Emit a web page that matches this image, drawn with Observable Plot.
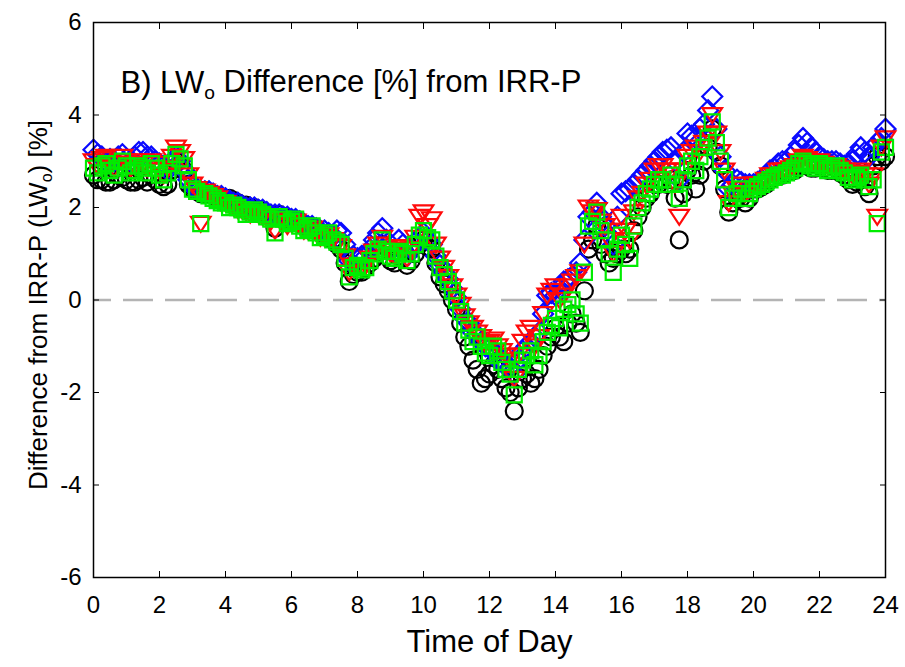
<!DOCTYPE html>
<html><head><meta charset="utf-8">
<script src="https://cdn.jsdelivr.net/npm/d3@7"></script>
<script src="https://cdn.jsdelivr.net/npm/@observablehq/plot@0.6"></script>
<style>
body{margin:0;background:#fff}
#chart{width:905px;height:667px}
</style>
</head><body><div id="chart"></div>
<script>
// Time of day (hours), one row per hour
const time = [
  0,0.125,0.25,0.375,0.5,0.625,0.75,0.875,
  1,1.125,1.25,1.375,1.5,1.625,1.75,1.875,
  2,2.125,2.25,2.375,2.5,2.625,2.75,2.875,
  3,3.125,3.25,3.375,3.5,3.625,3.75,3.875,
  4,4.125,4.25,4.375,4.5,4.625,4.75,4.875,
  5,5.125,5.25,5.375,5.5,5.625,5.75,5.875,
  6,6.125,6.25,6.375,6.5,6.625,6.75,6.875,
  7,7.125,7.25,7.375,7.5,7.625,7.75,7.875,
  8,8.125,8.25,8.375,8.5,8.625,8.75,8.875,
  9,9.125,9.25,9.375,9.5,9.625,9.75,9.875,
  10,10.125,10.25,10.375,10.5,10.625,10.75,10.875,
  11,11.125,11.25,11.375,11.5,11.625,11.75,11.875,
  12,12.125,12.25,12.375,12.5,12.625,12.75,12.875,
  13,13.125,13.25,13.375,13.5,13.625,13.75,13.875,
  14,14.125,14.25,14.375,14.5,14.625,14.75,14.875,
  15,15.125,15.25,15.375,15.5,15.625,15.75,15.875,
  16,16.125,16.25,16.375,16.5,16.625,16.75,16.875,
  17,17.125,17.25,17.375,17.5,17.625,17.75,17.875,
  18,18.125,18.25,18.375,18.5,18.625,18.75,18.875,
  19,19.125,19.25,19.375,19.5,19.625,19.75,19.875,
  20,20.125,20.25,20.375,20.5,20.625,20.75,20.875,
  21,21.125,21.25,21.375,21.5,21.625,21.75,21.875,
  22,22.125,22.25,22.375,22.5,22.625,22.75,22.875,
  23,23.125,23.25,23.375,23.5,23.625,23.75,23.875,
  24];
// Series values (% difference from IRR-P)
const blackCircles = [
  2.7,2.6,2.6,2.55,2.55,2.6,2.7,2.65,
  2.6,2.55,2.55,2.6,2.65,2.55,2.7,2.6,
  2.5,2.45,2.5,2.8,3.0,2.9,2.8,2.5,
  2.4,2.35,2.3,2.3,2.3,2.25,2.25,2.2,
  2.2,2.2,2.15,2.1,2.05,2.05,2.0,2.0,
  1.95,1.9,1.85,1.8,1.55,1.85,1.8,1.75,
  1.75,1.7,1.65,1.6,1.6,1.55,1.5,1.45,
  1.4,1.35,1.3,1.2,1.1,0.8,0.4,0.55,
  0.6,0.6,0.7,0.8,0.9,1.05,1.2,0.95,
  0.85,0.8,0.95,0.9,0.75,0.85,1.0,1.2,
  1.3,1.15,1.1,0.8,0.5,0.35,0.2,0.0,
  -0.2,-0.5,-0.8,-1.0,-1.3,-1.5,-1.8,-1.7,
  -1.6,-1.4,-1.5,-1.7,-1.9,-2.0,-2.4,-1.9,
  -1.7,-1.6,-1.8,-1.7,-1.5,-1.2,-1.0,-0.8,
  -0.6,-0.8,-0.9,-0.5,-0.3,-0.5,-0.7,0.2,
  1.1,1.3,1.6,1.2,1.0,0.8,0.9,1.0,
  1.1,1.0,1.1,1.5,1.8,2.0,2.2,2.3,
  2.5,2.5,2.6,2.5,2.6,2.2,1.3,2.3,
  2.8,2.7,2.4,2.7,3.0,3.3,3.7,3.2,
  2.9,2.4,1.9,2.1,2.2,2.2,2.1,2.2,
  2.4,2.4,2.45,2.5,2.6,2.65,2.7,2.7,
  2.75,2.8,2.8,2.9,2.95,2.9,2.85,2.85,
  2.9,2.85,2.8,2.8,2.85,2.75,2.7,2.6,
  2.5,2.55,2.6,2.45,2.3,2.9,3.1,3.0,
  3.1];
const blueDiamonds = [
  3.25,3.15,3.1,3.0,3.05,3.0,3.1,3.15,
  3.05,3.0,3.1,3.2,3.2,3.1,3.1,3.0,
  2.95,2.9,2.8,2.95,3.1,3.0,2.8,2.6,
  2.45,2.4,2.35,2.35,2.35,2.3,2.25,2.25,
  2.2,2.15,2.1,2.1,2.05,2.0,2.0,2.0,
  1.95,1.95,1.9,1.85,1.85,1.85,1.8,1.8,
  1.75,1.75,1.7,1.65,1.6,1.6,1.55,1.5,
  1.5,1.45,1.4,1.5,1.45,1.2,0.85,0.95,
  0.9,0.95,0.95,1.1,1.3,1.45,1.55,1.3,
  1.1,1.05,1.3,1.2,0.95,1.1,1.25,1.35,
  1.45,1.3,1.2,0.95,0.75,0.6,0.45,0.25,
  0.05,-0.2,-0.4,-0.5,-0.7,-0.75,-0.9,-1.0,
  -1.05,-1.1,-1.3,-1.35,-1.4,-1.45,-1.6,-1.3,
  -1.1,-1.0,-0.9,-0.8,-0.7,-0.3,0.1,0.15,
  0.1,0.25,0.4,0.45,0.5,0.6,0.8,1.3,
  1.8,1.9,2.1,1.8,1.6,1.4,1.2,1.8,
  2.3,2.35,2.4,2.5,2.6,2.7,2.8,2.9,
  3.0,3.1,3.2,3.25,3.3,3.0,2.6,3.2,
  3.6,3.55,3.5,3.7,3.8,4.1,4.4,3.7,
  3.1,2.8,2.4,2.5,2.6,2.55,2.5,2.5,
  2.5,2.55,2.6,2.7,2.8,2.85,2.95,3.0,
  3.0,3.1,3.2,3.35,3.5,3.4,3.3,3.2,
  3.1,3.05,3.0,3.0,3.0,2.95,2.9,2.95,
  3.0,3.15,3.3,3.2,3.1,3.3,3.4,3.5,
  3.7];
const redTriangles = [
  3.0,2.9,3.05,3.1,2.95,2.85,2.95,3.1,
  3.0,2.85,2.9,3.0,2.95,2.85,3.0,2.95,
  2.8,2.7,2.85,3.1,3.3,3.2,3.05,2.7,
  2.5,2.4,1.65,2.35,2.3,2.25,2.2,2.1,
  2.1,2.05,2.0,1.95,1.95,1.9,1.85,1.9,
  1.85,1.8,1.8,1.7,1.5,1.75,1.7,1.6,
  1.65,1.7,1.6,1.5,1.5,1.55,1.45,1.35,
  1.35,1.4,1.3,1.2,1.15,0.95,0.6,0.75,
  0.7,0.7,0.75,0.9,1.05,1.2,1.35,1.1,
  1.0,0.95,1.15,1.1,0.9,1.1,1.35,1.8,
  1.9,1.6,1.75,1.2,0.9,0.7,0.5,0.3,
  0.1,-0.1,-0.35,-0.5,-0.6,-0.7,-0.8,-0.95,
  -0.9,-0.85,-1.0,-1.1,-1.2,-1.3,-1.7,-1.2,
  -0.9,-0.7,-0.6,-1.0,-0.8,-0.3,0.1,0.2,
  0.3,0.0,0.1,0.3,0.4,0.5,0.6,1.2,
  2.0,1.9,1.95,1.7,1.6,1.3,1.0,1.5,
  1.8,1.5,1.3,1.9,2.2,2.3,2.5,2.6,
  2.8,2.9,2.9,2.8,2.8,2.5,1.8,2.8,
  3.1,3.2,3.3,3.2,3.4,3.6,4.0,3.6,
  3.2,2.8,2.1,2.3,2.4,2.5,2.3,2.4,
  2.5,2.5,2.5,2.6,2.7,2.7,2.8,2.8,
  2.8,2.85,2.9,3.0,3.1,3.05,3.0,2.95,
  3.0,2.95,2.9,2.9,2.9,2.85,2.8,2.75,
  2.7,2.75,2.8,2.7,2.5,2.7,1.8,3.3,
  3.5];
const greenSquares = [
  2.85,2.75,2.9,2.95,2.8,2.7,2.85,3.0,
  2.9,2.75,2.8,2.9,2.85,2.75,2.95,2.85,
  2.7,2.6,2.75,2.95,3.15,3.05,2.9,2.6,
  2.4,2.35,1.65,2.3,2.25,2.2,2.15,2.1,
  2.1,2.0,2.05,2.0,1.95,1.85,1.9,1.95,
  1.9,1.85,1.8,1.75,1.45,1.8,1.75,1.65,
  1.7,1.75,1.6,1.5,1.55,1.6,1.45,1.35,
  1.4,1.45,1.3,1.25,1.2,0.9,0.5,0.7,
  0.75,0.65,0.7,0.85,1.0,1.1,1.3,1.05,
  0.95,0.9,1.05,1.0,0.85,1.0,1.2,1.4,
  1.5,1.35,1.3,0.95,0.7,0.55,0.4,0.2,
  0.0,-0.25,-0.5,-0.65,-0.9,-0.8,-1.0,-1.15,
  -1.2,-1.0,-1.1,-1.35,-1.5,-1.6,-2.05,-1.5,
  -1.3,-1.2,-1.1,-1.4,-1.2,-0.9,-0.7,-0.55,
  -0.4,-0.6,-0.2,-0.1,0.0,-0.3,-0.5,0.6,
  1.6,1.7,1.9,1.5,1.3,1.0,0.6,1.1,
  1.4,1.2,0.9,1.6,2.0,2.1,2.3,2.4,
  2.5,2.6,2.6,2.5,2.7,2.5,2.2,2.6,
  2.9,3.0,2.8,3.1,3.3,3.5,3.85,3.4,
  3.0,2.6,2.0,2.2,2.3,2.4,2.2,2.3,
  2.4,2.45,2.5,2.55,2.6,2.65,2.7,2.7,
  2.75,2.8,2.85,2.95,3.0,2.95,2.9,2.85,
  2.95,2.9,2.8,2.85,2.9,2.8,2.75,2.65,
  2.6,2.65,2.7,2.6,2.45,2.6,1.65,3.2,
  3.3];
const xTicks = [0,2,4,6,8,10,12,14,16,18,20,22,24];
const yTicks = [-6,-4,-2,0,2,4,6];

const rows = vals => time.map((t, i) => ({t, v: vals[i]}));

const invTriangle = {
  draw(ctx, size) {
    const s = Math.sqrt(size / Math.PI);
    ctx.moveTo(-1.15 * s, -0.8 * s);
    ctx.lineTo(1.15 * s, -0.8 * s);
    ctx.lineTo(0, 0.95 * s);
    ctx.closePath();
  }
};

const FONT = "'Liberation Sans', Arial, sans-serif";

const chart = Plot.plot({
  width: 905, height: 667,
  marginLeft: 93, marginRight: 20, marginTop: 22, marginBottom: 90,
  style: {fontFamily: FONT, background: "white", overflow: "visible"},
  x: {domain: [0, 24]},
  y: {domain: [-6, 6]},
  marks: [
    Plot.ruleY([0], {stroke: "#b4b4b4", strokeWidth: 2.5, strokeDasharray: "30,12", strokeDashoffset: 12}),
    Plot.dot(rows(blackCircles), {x: "t", y: "v", r: 8.5, stroke: "black", strokeWidth: 2.2, symbol: "circle"}),
    Plot.dot(rows(blueDiamonds), {x: "t", y: "v", r: 9, stroke: "#0a0aff", strokeWidth: 2.2, symbol: "diamond2"}),
    Plot.dot(rows(redTriangles), {x: "t", y: "v", r: 8.5, stroke: "#ff0a0a", strokeWidth: 2.2, symbol: invTriangle}),
    Plot.dot(rows(greenSquares), {x: "t", y: "v", r: 8.5, stroke: "#00ec00", strokeWidth: 2.2, symbol: "square"}),
    Plot.frame({stroke: "black", strokeWidth: 1.5}),
    Plot.axisX({anchor: "bottom", ticks: xTicks, tickSize: -6, tickPadding: 24, fontSize: 24, label: null, tickFormat: d => String(d)}),
    Plot.axisX({anchor: "top", ticks: xTicks, tickSize: -6, label: null, tickFormat: () => ""}),
    Plot.axisY({anchor: "left", ticks: yTicks, tickSize: -6, tickPadding: 18, fontSize: 24, label: null, tickFormat: d => String(d)}),
    Plot.axisY({anchor: "right", ticks: yTicks, tickSize: -6, label: null, tickFormat: () => ""}),
    Plot.text(["Time of Day"], {frameAnchor: "bottom", dy: 74, fontSize: 31, fill: "black"}),
    Plot.text(["Difference from IRR-P (LW|o|) [%]"], {frameAnchor: "left", textAnchor: "middle", dx: -55, dy: 5, rotate: -90, fontSize: 26, fill: "black"}),
    Plot.text(["B) LW|o| Difference [%] from IRR-P"], {frameAnchor: "top-left", textAnchor: "start", dx: 27, dy: 48, fontSize: 31, fill: "black"})
  ]
});

// subscript "o" rendered as tspans (text kept real)
d3.select(chart).selectAll("text").each(function() {
  const t = this.textContent;
  if (t.includes("|o|")) {
    const [a, b, c] = t.split("|");
    const el = d3.select(this);
    el.text("");
    el.append("tspan").text(a);
    el.append("tspan").attr("font-size", "0.62em").attr("dy", "0.32em").text(b);
    el.append("tspan").attr("dy", "-0.2em").text(c);
  }
});

document.getElementById("chart").appendChild(chart);
</script>
</body></html>
